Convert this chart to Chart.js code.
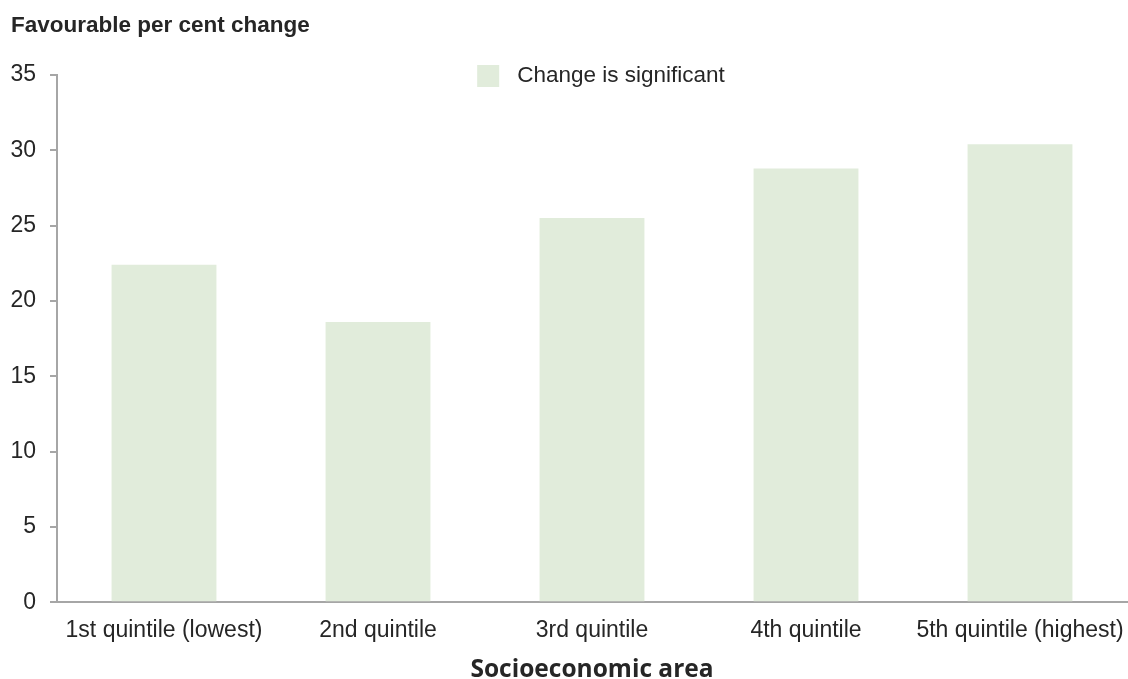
<!DOCTYPE html>
<html>
<head>
<meta charset="utf-8">
<script src="https://cdn.jsdelivr.net/npm/chart.js@4.4.1/dist/chart.umd.min.js"></script>
<style>
  html, body { margin: 0; padding: 0; background: #fff; }
  #wrap { width: 1128px; height: 679px; }
</style>
</head>
<body>
<div id="wrap"><canvas id="chart"></canvas></div>
<script>
const categories = ['1st quintile (lowest)', '2nd quintile', '3rd quintile', '4th quintile', '5th quintile (highest)'];
const changeValues = [22.4, 18.6, 25.5, 28.8, 30.4];
const yTicks = [0, 5, 10, 15, 20, 25, 30, 35];

const barColor = '#e1ecdb';
const axisColor = '#a6a6a6';
const textColor = '#262626';

// legend sits over the top of the plot, so draw it by hand
const legendInPlot = {
    id: 'legendInPlot',
    afterDraw(chart) {
        const ctx = chart.ctx;
        const area = chart.chartArea;
        const label = chart.data.datasets[0].label;
        ctx.save();
        ctx.font = '22.5px "Liberation Sans", Arial, sans-serif';
        const textW = ctx.measureText(label).width;
        const box = 22, gap = 18;
        const total = box + gap + textW;
        const x = (area.left + area.right) / 2 - total / 2 + 9;
        const y = area.top + 1;
        ctx.fillStyle = chart.data.datasets[0].backgroundColor;
        ctx.fillRect(x, y - box / 2, box, box);
        ctx.fillStyle = textColor;
        ctx.textBaseline = 'middle';
        ctx.fillText(label, x + box + gap, y);
        ctx.restore();
    }
};

new Chart(document.getElementById('chart'), {
    type: 'bar',
    data: {
        labels: categories,
        datasets: [{
            label: 'Change is significant',
            data: changeValues,
            backgroundColor: barColor,
            categoryPercentage: 1,
            barPercentage: 0.49
        }]
    },
    options: {
        responsive: true,
        maintainAspectRatio: false,
        animation: false,
        layout: { padding: { left: 11, right: 1, top: 12, bottom: 0 } },
        plugins: {
            legend: { display: false },
            tooltip: { enabled: false },
            title: {
                display: true,
                text: 'Favourable per cent change',
                align: 'start',
                color: textColor,
                font: { family: '"Liberation Sans", Arial, sans-serif', size: 22.5, weight: 'bold' },
                padding: { top: 0, bottom: 36 }
            }
        },
        scales: {
            x: {
                afterFit: (axis) => { axis.paddingLeft = 0; axis.paddingRight = 0; },
                grid: { display: false },
                border: { display: true, color: axisColor, width: 2 },
                ticks: {
                    color: textColor,
                    padding: 7,
                    maxRotation: 0,
                    font: { family: '"Liberation Sans", Arial, sans-serif', size: 23 }
                },
                title: {
                    display: true,
                    text: 'Socioeconomic area',
                    color: textColor,
                    font: { family: '"Open Sans", sans-serif', size: 24.5, weight: 'bold', lineHeight: 0.7 },
                    padding: { top: 10, bottom: 0 }
                }
            },
            y: {
                min: 0,
                max: 35,
                afterFit: (axis) => { axis.width = 46; },
                afterBuildTicks: (axis) => { axis.ticks = yTicks.map(v => ({ value: v })); },
                grid: { drawOnChartArea: false, drawTicks: true, tickLength: 7, color: axisColor, lineWidth: 2 },
                border: { display: true, color: axisColor, width: 2 },
                ticks: {
                    color: textColor,
                    padding: 14,
                    font: { family: '"Liberation Sans", Arial, sans-serif', size: 23 }
                }
            }
        }
    },
    plugins: [legendInPlot]
});
</script>
</body>
</html>
